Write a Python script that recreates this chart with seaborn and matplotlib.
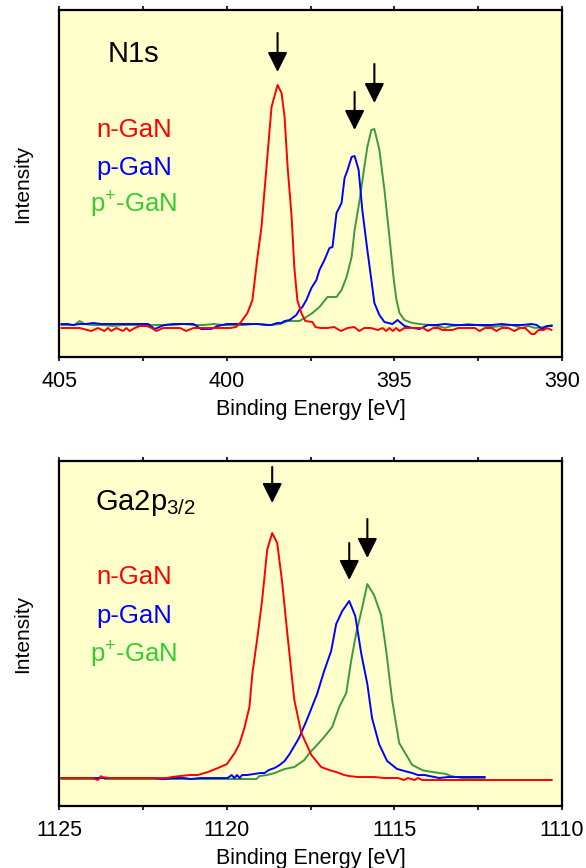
import numpy as np
import pandas as pd
import matplotlib
matplotlib.use("Agg")
import matplotlib.pyplot as plt
import seaborn as sns

# ---- N1s spectra (binding energy in eV, intensity in arbitrary units) ----
n1s_n_energy = [404.95, 404.7, 404.4, 404.05, 403.85, 403.66, 403.55, 403.46, 403.3, 403.11,
                403.0, 402.91, 402.75, 402.6, 402.4, 402.25, 402.11, 401.9, 401.6, 401.4,
                401.22, 401.0, 400.7, 400.4, 400.1, 399.9, 399.73, 399.58, 399.54, 399.39,
                399.24, 399.09, 398.97, 398.82, 398.67, 398.49, 398.37, 398.28, 398.19, 398.07,
                397.99, 397.9, 397.78, 397.66, 397.45, 397.36, 397.2, 397.0, 396.8, 396.6,
                396.4, 396.2, 396.05, 395.9, 395.7, 395.5, 395.35, 395.25, 395.15, 395.05,
                394.95, 394.85, 394.7, 394.5, 394.3, 394.15, 394.0, 393.85, 393.7, 393.57,
                393.4, 393.27, 393.1, 392.9, 392.7, 392.6, 392.46, 392.3, 392.1, 391.96,
                391.8, 391.6, 391.42, 391.25, 391.1, 390.91, 390.82, 390.7, 390.55, 390.45, 390.31]
n1s_n_int = [-2, -2, -2, -5, -2, -5, -2, -5, -2, -5,
             -2, -5, -2, 0, 0, -2, -5, -2, -2, -2,
             -5, -2, -2, -2, -2, -2, -1, 4, 6, 13,
             26, 69, 99, 159, 219, 241, 233, 209, 159, 109,
             59, 26, 13, 5, 4, -1, -2, -2, -1, -5,
             -2, -1, -5, -2, -2, -4, -2, -5, -2, -5,
             -2, -5, -2, -2, -2, -2, -5, -2, -2, -4,
             -4, -4, -2, -2, -2, -2, -5, -2, -2, -5,
             -2, -2, -5, -2, -2, -8, -8, -4, -4, -2, -4]

n1s_p_energy = [404.95, 404.75, 404.6, 404.4, 404.2, 404.0, 403.75, 403.5, 403.16, 402.9,
                402.6, 402.35, 402.16, 401.87, 401.6, 401.3, 401.0, 400.77, 400.6, 400.47,
                400.28, 400.0, 399.69, 399.4, 399.1, 398.85, 398.68, 398.5, 398.38, 398.28,
                398.13, 397.93, 397.84, 397.75, 397.63, 397.48, 397.33, 397.24, 397.09, 396.94,
                396.85, 396.73, 396.58, 396.49, 396.4, 396.28, 396.19, 396.07, 395.96, 395.81,
                395.69, 395.6, 395.45, 395.3, 395.06, 394.91, 394.7, 394.46, 394.25, 394.0,
                393.75, 393.5, 393.2, 392.9, 392.6, 392.35, 392.1, 391.8, 391.5, 391.2,
                390.9, 390.75, 390.6, 390.45, 390.3]
n1s_p_int = [2, 2, 1, 2, 2, 3, 2, 2, 2, 2,
             2, 2, -3, 1, 2, 2, 2, -3, -3, -3,
             0, 2, 2, 2, 2, 1, 1, 3, 3, 5,
             6, 11, 16, 19, 26, 38, 46, 56, 66, 78,
             79, 113, 123, 148, 156, 169, 170, 156, 116, 76,
             46, 23, 11, 4, 2, 6, 0, -2, -3, 1,
             1, 2, 1, 1, 1, 1, 1, 2, 1, 1,
             2, 1, -3, 0, 0]

n1s_pp_energy = [404.95, 404.7, 404.55, 404.4, 404.25, 404.0, 403.7, 403.4, 403.1, 402.8,
                 402.5, 402.2, 401.9, 401.6, 401.3, 401.0, 400.7, 400.4, 400.1, 399.8,
                 399.5, 399.2, 398.98, 398.7, 398.4, 398.19, 397.84, 397.63, 397.45, 397.24,
                 397.0, 396.73, 396.58, 396.43, 396.28, 396.19, 396.04, 395.9, 395.81, 395.69,
                 395.6, 395.45, 395.3, 395.15, 395.02, 394.94, 394.85, 394.7, 394.55, 394.46,
                 394.25, 393.96, 393.7, 393.5, 393.3, 393.0, 392.8, 392.55, 392.3, 392.1,
                 391.8, 391.5, 391.2, 391.0, 390.8, 390.55, 390.3]
n1s_pp_int = [1, 1, 1, 5, 2, 1, 1, 0, 1, 1,
              0, 1, 1, 1, 2, 1, 1, 2, 1, 1,
              1, 2, 2, 1, 2, 5, 5, 9, 13, 19,
              29, 29, 36, 49, 69, 96, 126, 159, 179, 196,
              197, 176, 136, 89, 46, 26, 13, 6, 4, 3,
              2, 1, 0, -2, 0, 1, 2, 1, 0, -1,
              0, 1, -2, 0, -2, -1, 1]

# ---- Ga2p3/2 spectra ----
ga_n_energy = [1124.95, 1124.6, 1124.3, 1124.0, 1123.86, 1123.75, 1123.5, 1123.2, 1122.9, 1122.6,
               1122.3, 1122.0, 1121.8, 1121.64, 1121.4, 1121.1, 1120.87, 1120.57, 1120.27, 1120.0,
               1119.77, 1119.63, 1119.48, 1119.33, 1119.24, 1119.09, 1118.95, 1118.8, 1118.65, 1118.5,
               1118.35, 1118.2, 1117.99, 1117.78, 1117.48, 1117.19, 1116.95, 1116.74, 1116.5, 1116.35,
               1116.1, 1115.84, 1115.6, 1115.3, 1115.05, 1114.9, 1114.71, 1114.6, 1114.5, 1114.4,
               1114.3, 1114.17, 1113.9, 1113.5, 1113.0, 1112.5, 1112.0, 1111.5, 1111.0, 1110.6, 1110.3]
ga_n_int = [0, 0, 0, 0, -2, 1, 0, 0, 0, 0,
            0, 0, 0, 1, 2, 3, 3, 6, 10, 14,
            25, 34, 50, 71, 105, 141, 178, 228, 245, 235,
            195, 145, 78, 45, 23, 11, 8, 6, 3, 2,
            1, 1, 1, 0, 0, 0, -2, 0, -1, -2,
            0, -2, -2, -2, -2, -2, -2, -2, -2, -2, -2]

ga_p_energy = [1124.95, 1124.6, 1124.2, 1123.8, 1123.4, 1123.0, 1122.6, 1122.2, 1121.87, 1121.6,
               1121.3, 1121.07, 1120.8, 1120.5, 1120.2, 1119.98, 1119.86, 1119.78, 1119.7, 1119.62,
               1119.55, 1119.4, 1119.2, 1119.0, 1118.88, 1118.75, 1118.58, 1118.43, 1118.28, 1118.13,
               1117.99, 1117.85, 1117.63, 1117.31, 1117.1, 1116.89, 1116.74, 1116.56, 1116.35, 1116.17,
               1115.99, 1115.81, 1115.67, 1115.46, 1115.22, 1114.92, 1114.7, 1114.47, 1114.3, 1114.1,
               1113.96, 1113.8, 1113.67, 1113.4, 1113.1, 1112.8, 1112.6, 1112.3]
ga_p_int = [0, 0, 0, 0, 0, 0, 0, 0, -1, 0,
            0, -1, 0, 0, 0, 0, 3, 0, 3, 0,
            3, 3, 4, 5, 5, 8, 10, 13, 17, 24,
            32, 40, 57, 84, 107, 127, 154, 167, 177, 162,
            124, 94, 60, 34, 17, 9, 7, 5, 3, 3,
            2, 1, 0, 1, 1, 1, 1, 1]

ga_pp_energy = [1124.95, 1124.5, 1124.1, 1123.85, 1123.76, 1123.65, 1123.3, 1122.9, 1122.5, 1122.1,
                1121.7, 1121.3, 1120.9, 1120.5, 1120.1, 1119.7, 1119.3, 1119.12, 1119.03, 1118.8,
                1118.58, 1118.28, 1117.99, 1117.69, 1117.54, 1117.34, 1117.1, 1116.86, 1116.65, 1116.44,
                1116.29, 1116.14, 1115.96, 1115.81, 1115.61, 1115.4, 1115.25, 1115.07, 1114.86, 1114.47,
                1114.17, 1114.05, 1113.46, 1113.31, 1113.0, 1112.6, 1112.3]
ga_pp_int = [-1, -1, -1, -1, 2, -1, -1, -1, -1, -1,
             -1, -1, -1, -1, -1, -1, -1, -1, 2, 3,
             5, 9, 11, 18, 25, 32, 41, 51, 71, 85,
             118, 145, 171, 194, 183, 163, 128, 78, 35, 13,
             8, 7, 4, 2, 0, -1, -1]

sample_names = ["n-GaN", "p-GaN", "p+-GaN"]
label_texts = ["n-GaN", "p-GaN", r"p$^{+}$-GaN"]
line_colors = {"n-GaN": "#FF0000", "p-GaN": "#0000FF", "p+-GaN": "#3C9A3C"}
text_colors = ["#FF0000", "#0000FF", "#33CC33"]

n1s_xticks = [405, 400, 395, 390]
ga_xticks = [1125, 1120, 1115, 1110]


def make_frame(series):
    frames = []
    for name, (e, i) in zip(sample_names, series):
        frames.append(pd.DataFrame({"energy": e, "intensity": i, "sample": name}))
    return pd.concat(frames, ignore_index=True)


n1s_df = make_frame([(n1s_n_energy, n1s_n_int), (n1s_p_energy, n1s_p_int), (n1s_pp_energy, n1s_pp_int)])
ga_df = make_frame([(ga_n_energy, ga_n_int), (ga_p_energy, ga_p_int), (ga_pp_energy, ga_pp_int)])

sns.set_theme(style="ticks")
plt.rcParams["font.family"] = ["Liberation Sans", "DejaVu Sans"]
plt.rcParams["mathtext.fontset"] = "custom"
plt.rcParams["mathtext.rm"] = "Liberation Sans"
plt.rcParams["mathtext.default"] = "regular"
plt.rcParams["text.color"] = "black"
plt.rcParams["axes.labelcolor"] = "black"

fig = plt.figure(figsize=(5.86, 8.68), dpi=100)
ax_top = fig.add_axes([0.1015, 0.5887, 0.8575, 0.3998])
ax_bot = fig.add_axes([0.1015, 0.0714, 0.8575, 0.3975])

panels = [
    (ax_top, n1s_df, n1s_xticks, (-31, 316), "N1s", [0.634, 0.5245, 0.415], 0.850, 0.0965,
     [(13, 39), (26, 38), (26, 39)]),
    (ax_bot, ga_df, ga_xticks, (-28, 317), r"Ga2p$_{3/2}$", [0.643, 0.530, 0.417], 0.858, 0.0706,
     [(30, 36), (21, 37), (26, 39)]),
]

for ax, df, xticks, ylim, title, label_y, title_y, title_x, arrow_geom in panels:
    ax.set_facecolor("#FFFFCC")
    sns.lineplot(data=df, x="energy", y="intensity", hue="sample",
                 hue_order=["p+-GaN", "p-GaN", "n-GaN"], palette=line_colors,
                 estimator=None, legend=False, linewidth=1.4, ax=ax)
    ax.set_xlim(xticks[0], xticks[-1])
    ax.set_ylim(*ylim)
    ax.set_xticks(xticks)
    ax.set_xticks(np.arange(xticks[-1], xticks[0] + 0.1, 2.5), minor=True)
    ax.set_yticks([])
    ax.tick_params(axis="x", which="both", direction="out", top=True, bottom=True,
                   length=3, width=1.2, labelsize=15.5, pad=7, colors="black")
    for s in ax.spines.values():
        s.set_linewidth(1.6)
        s.set_color("black")
        s.set_visible(True)
    ax.set_xlabel("Binding Energy [eV]", fontsize=15.5, labelpad=5, color="black")
    ax.set_ylabel("Intensity", fontsize=15, labelpad=20, color="black")

    ax.text(title_x, title_y, title, transform=ax.transAxes, fontsize=21,
            ha="left", va="baseline", color="black")
    for txt, col, y in zip(label_texts, text_colors, label_y):
        ax.text(0.148, y, txt, transform=ax.transAxes, fontsize=18.5,
                ha="center", va="baseline", color=col)

    # arrows above each peak
    for name, (gap, length) in zip(sample_names, arrow_geom):
        sub = df[df["sample"] == name]
        k = sub["intensity"].idxmax()
        px, py = sub.loc[k, "energy"], sub.loc[k, "intensity"]
        ax.annotate("", xy=(px, py + gap), xytext=(px, py + gap + length),
                    arrowprops=dict(arrowstyle="-|>,head_length=0.6,head_width=0.3",
                                    color="black", lw=1.5, mutation_scale=20,
                                    shrinkA=0, shrinkB=0))

fig.savefig("out.png", dpi=100, facecolor="white")
